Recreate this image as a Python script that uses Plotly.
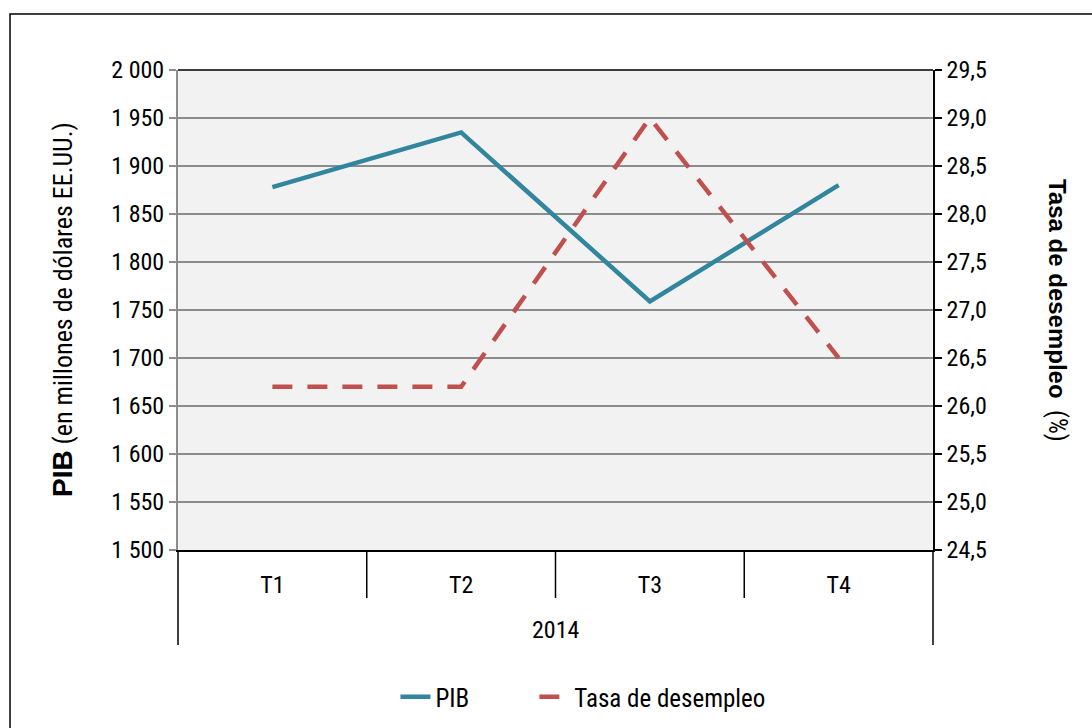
import plotly.graph_objects as go

# Quarterly data, 2014
year = "2014"
quarters = ["T1", "T2", "T3", "T4"]
pib = [1878, 1935, 1759, 1880]          # PIB, millones de dólares EE.UU.
desempleo = [26.2, 26.2, 29.0, 26.5]    # Tasa de desempleo, %

FONT = "Roboto Condensed, DejaVu Sans Condensed, Liberation Sans, sans-serif"
TEAL = "#31869E"
RED = "#C0504D"
GRID = "#8C8C8C"
TXT = dict(family=FONT, size=24, color="black")

fig = go.Figure()
fig.add_trace(go.Scatter(
    x=quarters, y=pib, name="PIB", mode="lines",
    line=dict(color=TEAL, width=4.5), yaxis="y", legend="legend"))
fig.add_trace(go.Scatter(
    x=quarters, y=desempleo, name="Tasa de desempleo", mode="lines",
    line=dict(color=RED, width=4.5, dash="20px,15px"), yaxis="y2", legend="legend2"))

LEG = dict(orientation="h", yref="container", y=1 - 697 / 728, yanchor="middle",
           xanchor="left", font=dict(TXT, size=25), bgcolor="rgba(0,0,0,0)")

fig.update_layout(
    width=1092, height=728,
    margin=dict(l=178, r=159, t=70, b=178),
    paper_bgcolor="white", plot_bgcolor="#F2F2F2",
    separators=", ",
    font=TXT,
    showlegend=True,
    legend=dict(LEG, x=0.288),
    legend2=dict(LEG, x=0.472),
    xaxis=dict(
        type="category", showgrid=False, showline=True, linecolor="black", linewidth=1.5,
        ticks="", ticklabelstandoff=12, tickfont=TXT, range=[-0.5, 3.5],
        automargin=False),
    yaxis=dict(
        range=[1500, 2000], dtick=50, tickformat=",.0f",
        showgrid=True, gridcolor=GRID, gridwidth=1.5,
        showline=True, linecolor=GRID, linewidth=2, automargin=False,
        ticks="outside", ticklen=7, tickcolor=GRID, tickwidth=1.5, tickfont=TXT),
    yaxis2=dict(
        range=[24.5, 29.5], dtick=0.5, tickformat=".1f", overlaying="y", side="right",
        showgrid=False, showline=True, linecolor="black", linewidth=1.5, automargin=False,
        ticks="outside", ticklen=7, tickcolor="black", tickwidth=1.5, tickfont=TXT),
)

# Top edge of the plot area
fig.add_shape(type="line", xref="paper", yref="paper", x0=0, x1=1, y0=1, y1=1,
              line=dict(color="black", width=1.5))
# Dividers of the two-level category band: quarters (short) and year (long)
for xp in (0.25, 0.5, 0.75):
    fig.add_shape(type="line", xref="paper", yref="paper", x0=xp, x1=xp, y0=0, y1=-0.1,
                  line=dict(color="black", width=1.5))
for xp in (0.0, 1.0):
    fig.add_shape(type="line", xref="paper", yref="paper", x0=xp, x1=xp, y0=0, y1=-0.198,
                  line=dict(color="black", width=1.5))
fig.add_annotation(xref="paper", yref="paper", x=0.5, y=-0.1667, xanchor="center",
                   yanchor="middle", showarrow=False, text=year, font=TXT)

# Outer chart frame
fig.add_shape(type="rect", xref="paper", yref="paper",
              x0=-0.2225, x1=1.5, y0=-0.6, y1=1.1167,
              line=dict(color="black", width=1.5), fillcolor="rgba(0,0,0,0)", layer="below")

# Axis titles (bold part in the wider sans face)
BOLD_L = 'style="font-family:Liberation Sans;font-weight:bold;font-size:28px"'
BOLD_R = 'style="font-family:Liberation Sans;font-weight:bold;font-size:24px"'
fig.add_annotation(xref="paper", yref="paper", x=-0.1536, y=0.5, textangle=-90,
                   xanchor="center", yanchor="middle", showarrow=False,
                   font=dict(TXT, size=26),
                   text=f'<span {BOLD_L}>PIB</span> (en millones de dólares EE.UU.)')
fig.add_annotation(xref="paper", yref="paper", x=1.1656, y=0.5, textangle=90,
                   xanchor="center", yanchor="middle", showarrow=False,
                   font=dict(TXT, size=25),
                   text=f'<span {BOLD_R}>Tasa de desempleo</span>  (%)')

fig.write_html("out.html")
